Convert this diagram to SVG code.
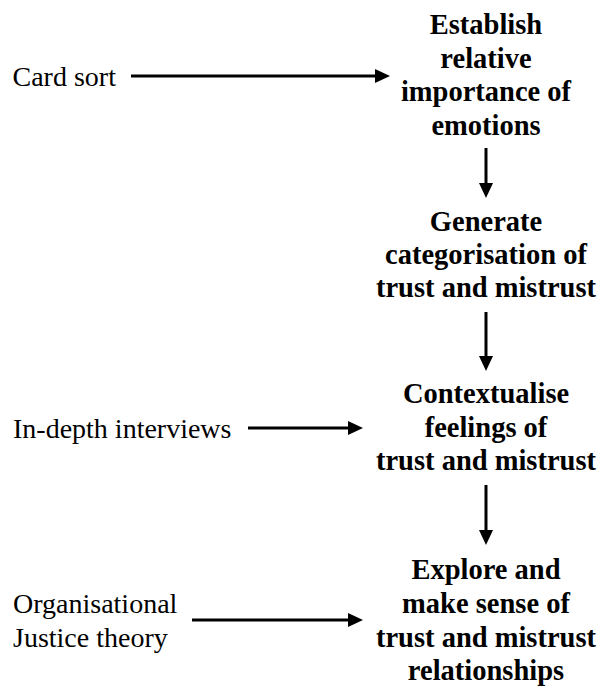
<svg xmlns="http://www.w3.org/2000/svg" width="601" height="693" viewBox="0 0 601 693">
<style>
text{font-family:'Liberation Serif','Times New Roman',serif;font-size:28.5px;fill:#000}
.src{font-size:28px}
.stp{font-weight:bold;text-anchor:middle}
.ln{stroke:#000;stroke-width:3;fill:none}
</style>
<defs>
<marker id="ah" markerWidth="15" markerHeight="14" refX="5" refY="7" orient="auto" markerUnits="userSpaceOnUse" viewBox="0 0 15 14">
<path d="M0,0 L15,7 L0,14 z" fill="#000"/>
</marker>
</defs>
<g id="card-sort"><text class="src" x="12.5" y="86">Card sort</text></g>
<g id="in-depth"><text class="src" x="13" y="438">In-depth interviews</text></g>
<g id="org-justice"><text class="src" x="13" y="613">Organisational</text><text class="src" x="13" y="647">Justice theory</text></g>
<g id="establish"><text class="stp" x="486" y="34">Establish</text><text class="stp" x="486" y="68">relative</text><text class="stp" x="486" y="101">importance of</text><text class="stp" x="486" y="135">emotions</text></g>
<g id="generate"><text class="stp" x="486" y="231">Generate</text><text class="stp" x="486" y="264">categorisation of</text><text class="stp" x="486" y="297">trust and mistrust</text></g>
<g id="contextualise"><text class="stp" x="486" y="403">Contextualise</text><text class="stp" x="486" y="437">feelings of</text><text class="stp" x="486" y="470">trust and mistrust</text></g>
<g id="explore"><text class="stp" x="486" y="579">Explore and</text><text class="stp" x="486" y="613">make sense of</text><text class="stp" x="486" y="647">trust and mistrust</text><text class="stp" x="486" y="680">relationships</text></g>
<g id="connectors">
<line class="ln" x1="131" y1="76" x2="380" y2="76" marker-end="url(#ah)"/>
<line class="ln" x1="486" y1="148" x2="486" y2="188" marker-end="url(#ah)"/>
<line class="ln" x1="486" y1="312" x2="486" y2="361" marker-end="url(#ah)"/>
<line class="ln" x1="248" y1="428" x2="353" y2="428" marker-end="url(#ah)"/>
<line class="ln" x1="486" y1="485" x2="486" y2="535" marker-end="url(#ah)"/>
<line class="ln" x1="192" y1="620" x2="353" y2="620" marker-end="url(#ah)"/>
</g>
</svg>
